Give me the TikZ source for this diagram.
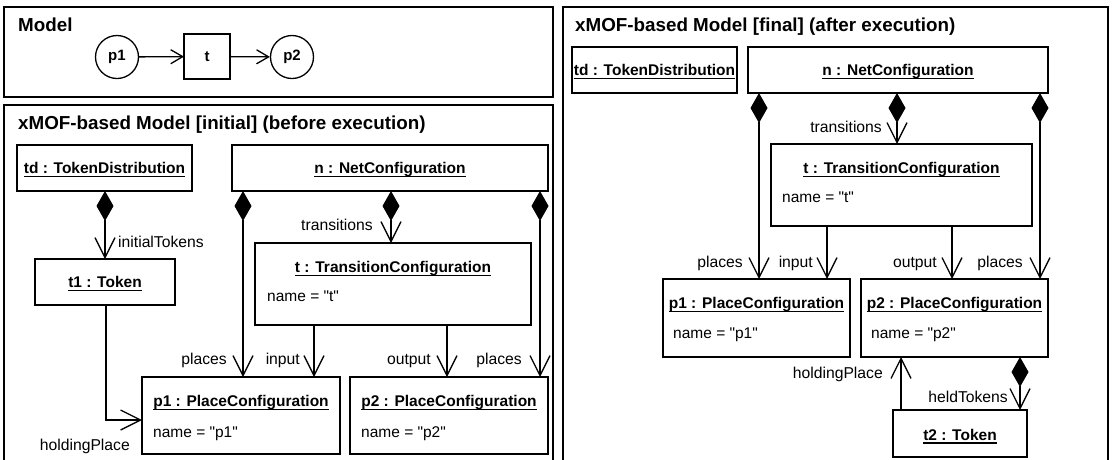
\documentclass[tikz,border=0pt]{standalone}
\usepackage{fontspec}
\setmainfont{Liberation Sans}
\usetikzlibrary{arrows.meta,fit,calc}
\newcommand\ulx[1]{\setbox0\hbox{#1}\rlap{\rule[-3.6pt]{\wd0}{1.3pt}}\box0}
\newcommand\qq{\XeTeXglyph\XeTeXcharglyph"0022\relax}
\begin{document}
\begin{tikzpicture}[x=1pt,y=-1pt,
  frame/.style={draw, line width=1.4pt},
  obj/.style={draw, line width=1.3pt, inner sep=0pt, outer sep=0pt},
  pnode/.style={draw, circle, line width=1.3pt, inner sep=0pt, minimum size=43pt, font=\fontsize{15}{18}\selectfont\bfseries},
  ttl/.style={font=\fontsize{15.5}{18}\selectfont\bfseries, inner sep=0pt, anchor=base},
  attr/.style={font=\fontsize{15.5}{18}\selectfont, inner sep=0pt, anchor=base west},
  lbl/.style={font=\fontsize{15.7}{18}\selectfont, inner sep=0pt, anchor=base east},
  lblw/.style={font=\fontsize{15.7}{18}\selectfont, inner sep=0pt, anchor=base west},
  ftitle/.style={font=\fontsize{18.8}{22}\selectfont\bfseries, inner sep=0pt, anchor=base west},
  vtip/.tip={Straight Barb[length=20pt,width=20pt,line width=1.3pt]},
  dtip/.tip={Diamond[length=30pt,width=17pt]},
  comp/.style={line width=1.3pt, dtip-vtip},
  assoc/.style={line width=1.3pt, -vtip},
  massoc/.style={line width=1.3pt, -{Straight Barb[length=12pt,width=14pt,line width=1.3pt]}}]
\useasboundingbox (0,0) rectangle (1112,459);
\clip (0,0) rectangle (1112,459);

% frames
\draw[frame] (4,7) rectangle (553,97);
\draw[frame] (4,105) rectangle (553,470);
\draw[frame] (563,7) rectangle (1108,470);
\node[ftitle] (fM) at (18,31.5) {Model};
\node[ftitle] (fI) at (18,129.5) {xMOF-based Model [initial] (before execution)};
\node[ftitle] (fF) at (575,31.5) {xMOF-based Model [final] (after execution)};

% Model
\node[pnode] (mp1) at (117,57) {p1};
\node[obj, fit={(184,34) (230,79)}] (mt) {};
\node[font=\fontsize{15}{18}\selectfont\bfseries, inner sep=0pt] (mtT) at (mt.center) {t};
\node[pnode] (mp2) at (292,57) {p2};
\draw[massoc] (mp1) -- (mt);
\draw[massoc] (mt) -- (mp2);

% initial objects
\node[obj, fit={(17,145) (192,191)}] (tdI) {};
\node[ttl] (tdIT) at (104.5,173.4) {\ulx{td : TokenDistribution}};
\node[obj, fit={(232,145) (548,191)}] (nI) {};
\node[ttl] (nIT) at (390,173.4) {\ulx{n : NetConfiguration}};
\node[obj, fit={(35,259) (175,305)}] (t1I) {};
\node[ttl] (t1IT) at (105,287.4) {\ulx{t1 : Token}};
\node[obj, fit={(255,243) (531,325)}] (tI) {};
\node[ttl] (tIT) at (393,272.4) {\ulx{t : TransitionConfiguration}};
\node[attr] (tIA) at (267,301.4) {name = \qq t\qq};
\node[obj, fit={(142,377) (340,454)}] (p1I) {};
\node[ttl] (p1IT) at (241,406.4) {\ulx{p1 : PlaceConfiguration}};
\node[attr] (p1IA) at (153,437) {name = \qq p1\qq};
\node[obj, fit={(350,377) (548,454)}] (p2I) {};
\node[ttl] (p2IT) at (449,406.4) {\ulx{p2 : PlaceConfiguration}};
\node[attr] (p2IA) at (361,437) {name = \qq p2\qq};

% initial connectors
\coordinate (xa) at (243,0);
\coordinate (xb) at (391,0);
\coordinate (xc) at (540,0);
\coordinate (xd) at (314,0);
\coordinate (xe) at (447,0);
\coordinate (hp) at (106,420);
\draw[comp] (t1I.north |- tdI.south) -- (t1I.north);
\node[lblw] (lIT) at (118,247.4) {initialTokens};
\draw[comp] (nI.south -| xa) -- (p1I.north -| xa);
\node[lbl] (lIpl) at (227,364.4) {places};
\draw[comp] (nI.south -| xb) -- (tI.north -| xb);
\node[lbl] (lItr) at (373,230.4) {transitions};
\draw[comp] (nI.south -| xc) -- (p2I.north -| xc);
\node[lbl] (lIpr) at (522,364.4) {places};
\draw[assoc] (tI.south -| xd) -- (p1I.north -| xd);
\node[lbl] (lIin) at (300,364.4) {input};
\draw[assoc] (tI.south -| xe) -- (p2I.north -| xe);
\node[lbl] (lIout) at (431,364.4) {output};
\draw[assoc] (t1I.south -| hp) -- (hp) -- (p1I.west |- hp);
\node[lbl] (lIhp) at (130,450.4) {holdingPlace};

% final objects
\node[obj, fit={(572,47) (737,93)}] (tdF) {};
\node[ttl] (tdFT) at (654.5,75.4) {\ulx{td : TokenDistribution}};
\node[obj, fit={(748,47) (1048,93)}] (nF) {};
\node[ttl] (nFT) at (898,75.4) {\ulx{n : NetConfiguration}};
\node[obj, fit={(771,144) (1032,226)}] (tF) {};
\node[ttl] (tFT) at (901.5,173.4) {\ulx{t : TransitionConfiguration}};
\node[attr] (tFA) at (782,202.4) {name = \qq t\qq};
\node[obj, fit={(663,279) (850,357)}] (p1F) {};
\node[ttl] (p1FT) at (756.5,308.4) {\ulx{p1 : PlaceConfiguration}};
\node[attr] (p1FA) at (673,338.4) {name = \qq p1\qq};
\node[obj, fit={(861,279) (1048,357)}] (p2F) {};
\node[ttl] (p2FT) at (954.5,308.4) {\ulx{p2 : PlaceConfiguration}};
\node[attr] (p2FA) at (871,338.4) {name = \qq p2\qq};
\node[obj, fit={(893,410) (1027,457)}] (t2F) {};
\node[ttl] (t2FT) at (960,440) {\ulx{t2 : Token}};

% final connectors
\coordinate (fa) at (759,0);
\coordinate (fb) at (897,0);
\coordinate (fc) at (1040,0);
\coordinate (fd) at (827,0);
\coordinate (fe) at (952,0);
\coordinate (ff) at (901,0);
\coordinate (fg) at (1020,0);
\draw[comp] (nF.south -| fa) -- (p1F.north -| fa);
\node[lbl] (lFpl) at (743,267.4) {places};
\draw[comp] (nF.south -| fb) -- (tF.north -| fb);
\node[lbl] (lFtr) at (882,132.4) {transitions};
\draw[comp] (nF.south -| fc) -- (p2F.north -| fc);
\node[lbl] (lFpr) at (1023,267.4) {places};
\draw[assoc] (tF.south -| fd) -- (p1F.north -| fd);
\node[lbl] (lFin) at (813,267.4) {input};
\draw[assoc] (tF.south -| fe) -- (p2F.north -| fe);
\node[lbl] (lFout) at (937,267.4) {output};
\draw[assoc] (t2F.north -| ff) -- (p2F.south -| ff);
\node[lbl] (lFhp) at (883,378.4) {holdingPlace};
\draw[comp] (p2F.south -| fg) -- (t2F.north -| fg);
\node[lbl] (lFht) at (1008,402.4) {heldTokens};
\end{tikzpicture}
\end{document}
